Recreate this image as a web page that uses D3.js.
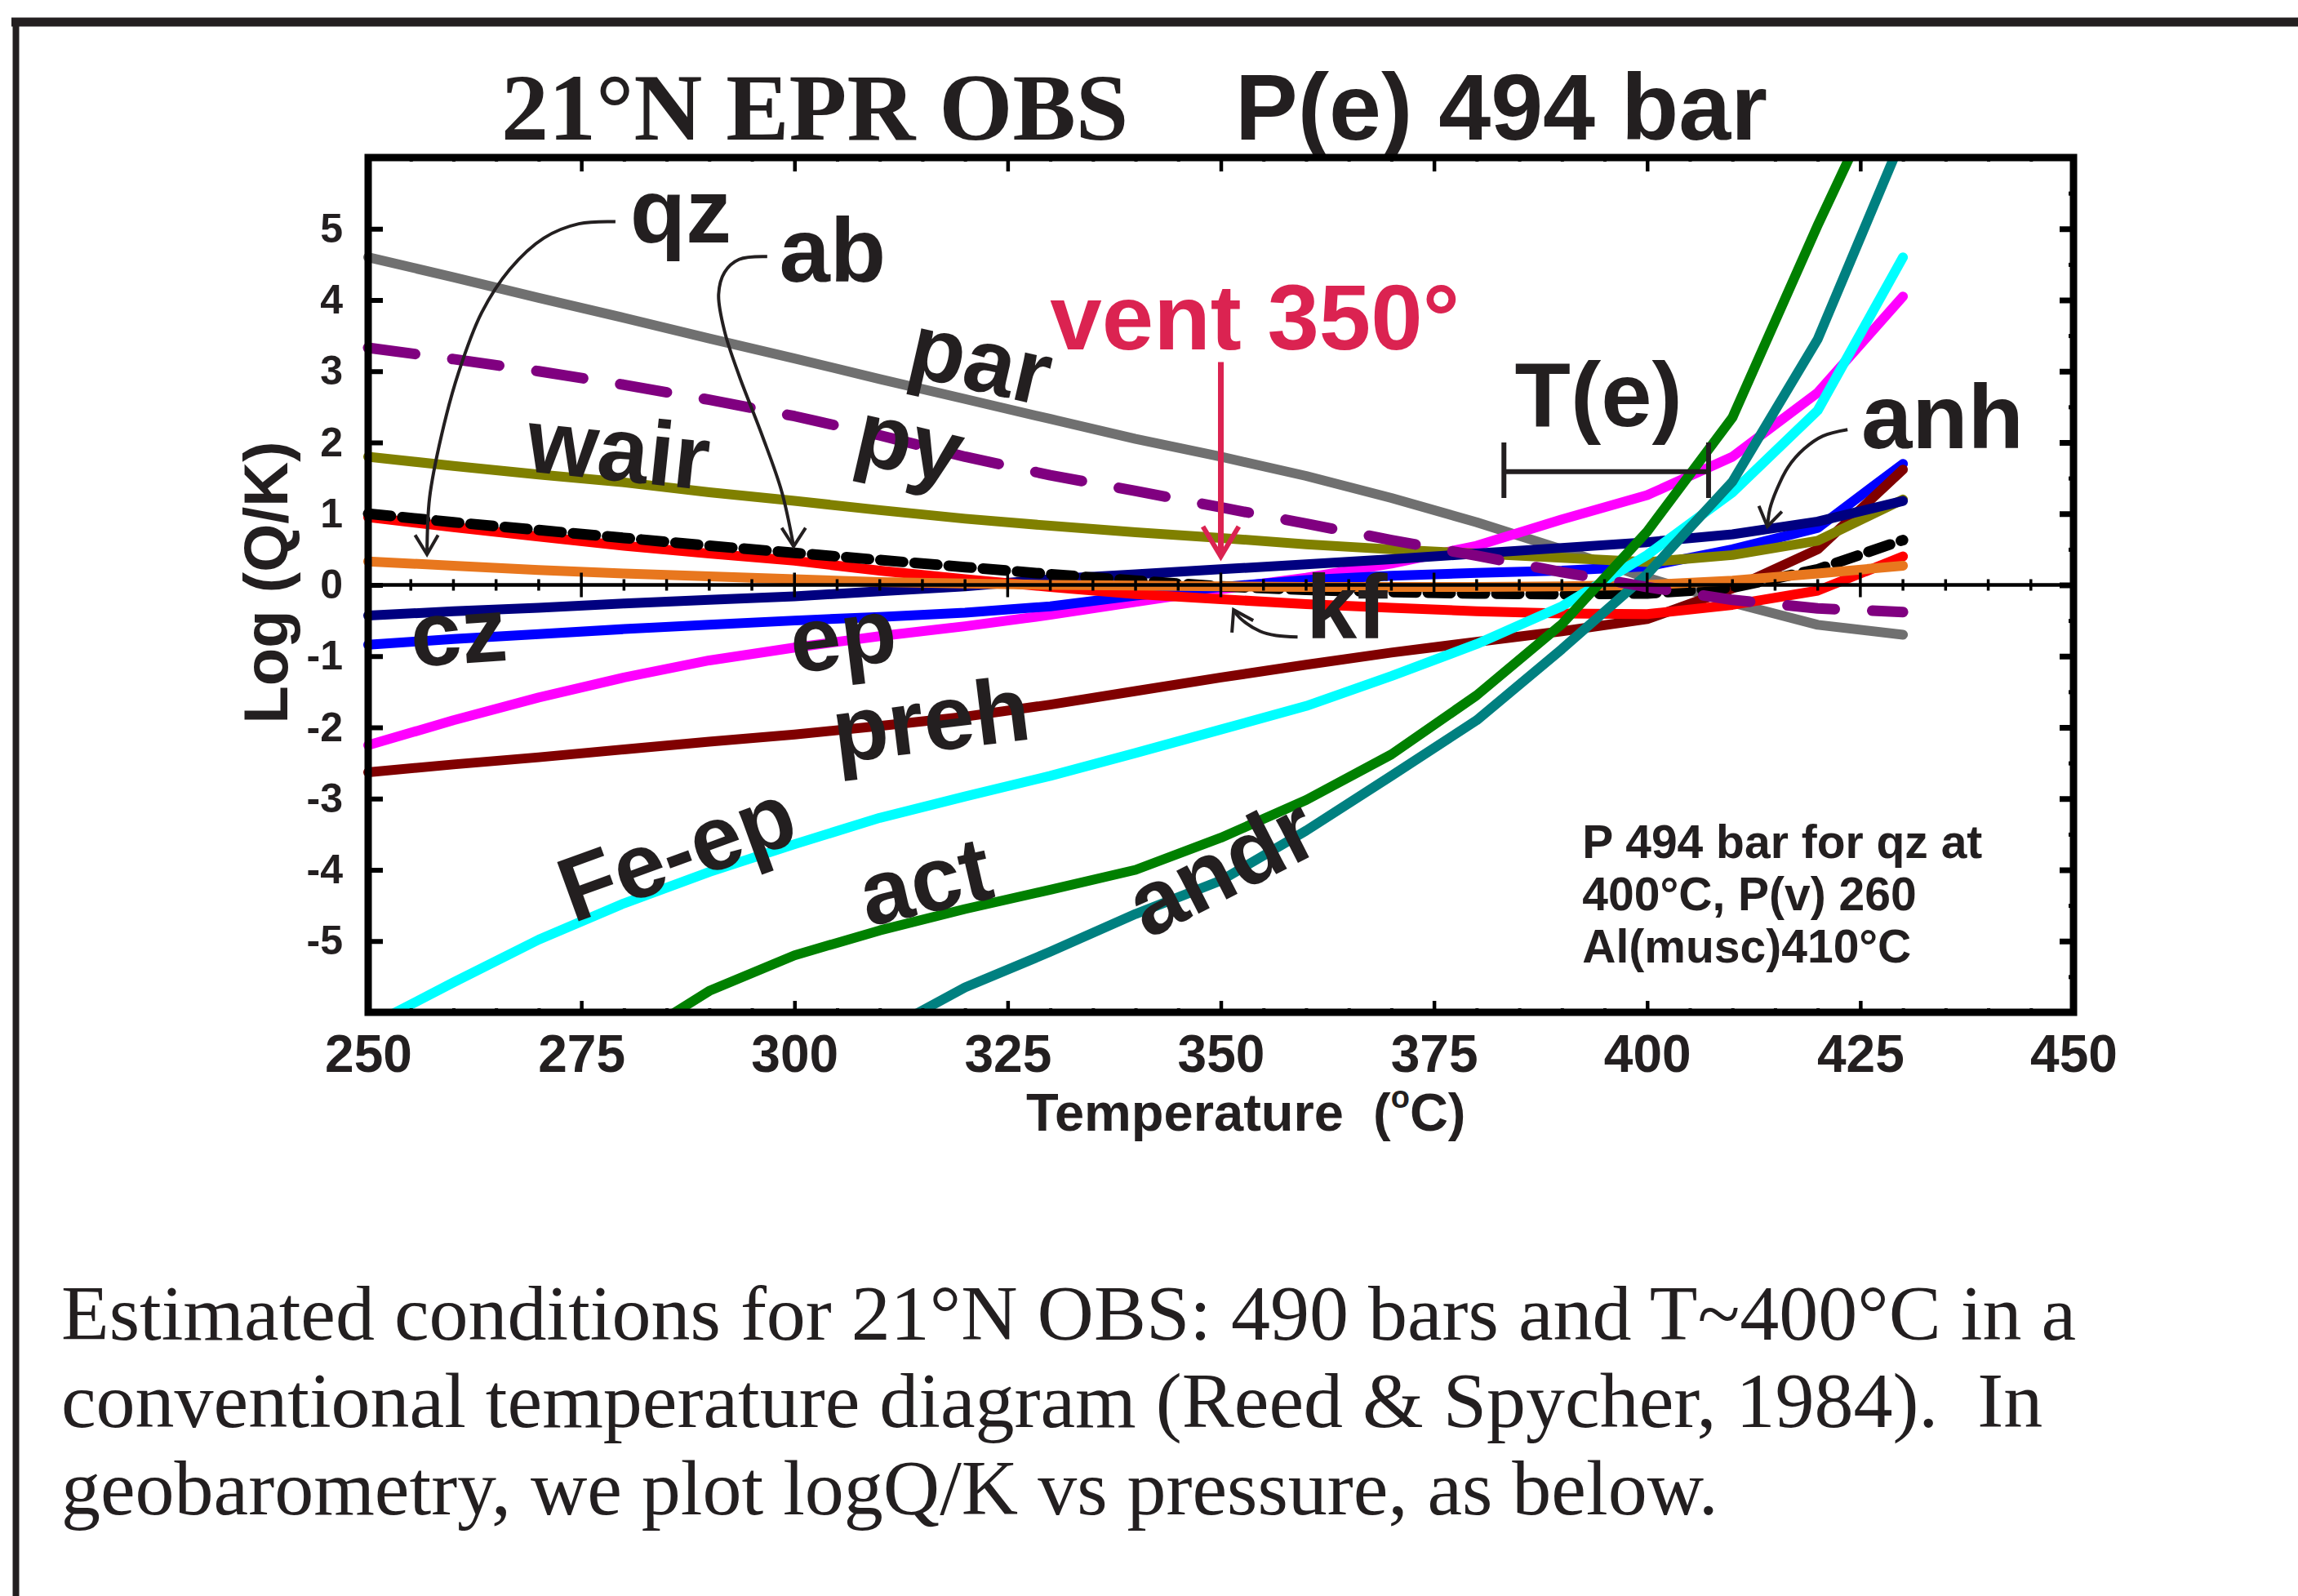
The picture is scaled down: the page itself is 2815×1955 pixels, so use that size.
<!DOCTYPE html>
<html>
<head>
<meta charset="utf-8">
<script src="https://cdn.jsdelivr.net/npm/d3@7"></script>
<style>
  body { margin: 0; background: #fff; }
  svg { display: block; }
  text { font-family: "Liberation Sans", Arial, sans-serif; font-weight: bold; fill: #231f20; white-space: pre; }
  .serif { font-family: "Liberation Serif", "Times New Roman", serif; }
</style>
</head>
<body>
<svg id="chart" width="2815" height="1955"></svg>
<script>
// temperatures (°C) at which log(Q/K) was evaluated
const temps = [250, 260, 270, 280, 290, 300, 310, 320, 330, 340, 350, 360, 370, 380, 390, 400, 410, 420, 430];

// log(Q/K) per mineral (null = off the chart)
const par  = [4.6, 4.32, 4.03, 3.75, 3.46, 3.18, 2.89, 2.61, 2.33, 2.05, 1.8, 1.53, 1.22, 0.88, 0.5, 0.1, -0.25, -0.56, -0.7];
const ep   = [-2.25, -1.9, -1.58, -1.3, -1.06, -0.88, -0.72, -0.58, -0.42, -0.24, -0.06, 0.1, 0.3, 0.55, 0.92, 1.26, 1.8, 2.7, 4.05];
const cz   = [-0.84, -0.76, -0.69, -0.62, -0.56, -0.5, -0.45, -0.39, -0.3, -0.15, -0.03, 0.07, 0.13, 0.17, 0.2, 0.26, 0.5, 0.8, 1.7];
const preh = [-2.63, -2.52, -2.42, -2.31, -2.2, -2.1, -1.98, -1.85, -1.68, -1.49, -1.3, -1.12, -0.95, -0.8, -0.65, -0.48, -0.05, 0.5, 1.62];
const wair = [1.8, 1.67, 1.55, 1.44, 1.3, 1.18, 1.05, 0.93, 0.83, 0.74, 0.66, 0.57, 0.5, 0.44, 0.38, 0.32, 0.42, 0.62, 1.2];
const anh  = [-0.43, -0.37, -0.32, -0.26, -0.21, -0.16, -0.09, -0.02, 0.08, 0.15, 0.22, 0.29, 0.36, 0.44, 0.52, 0.6, 0.71, 0.89, 1.18];
const kf   = [0.95, 0.81, 0.68, 0.55, 0.44, 0.34, 0.2, 0.08, -0.03, -0.13, -0.2, -0.27, -0.32, -0.37, -0.4, -0.41, -0.28, -0.08, 0.4];
const ab   = [1.0, 0.88, 0.77, 0.66, 0.55, 0.45, 0.35, 0.25, 0.15, 0.06, -0.02, -0.07, -0.1, -0.12, -0.13, -0.12, -0.04, 0.22, 0.63];
const qz   = [0.33, 0.27, 0.21, 0.16, 0.12, 0.08, 0.04, 0.02, 0.0, -0.01, -0.02, -0.03, -0.03, -0.03, -0.02, 0.0, 0.06, 0.16, 0.27];
const feep = [-6.2, -5.58, -4.98, -4.47, -4.03, -3.64, -3.27, -2.97, -2.68, -2.36, -2.03, -1.7, -1.28, -0.83, -0.3, 0.42, 1.3, 2.45, 4.6];
const act  = [null, null, null, -6.45, -5.7, -5.2, -4.85, -4.55, -4.28, -4.0, -3.55, -3.02, -2.38, -1.55, -0.55, 0.75, 2.35, 5.05, 7.6];
const andr = [null, null, null, null, null, null, -6.3, -5.65, -5.15, -4.62, -4.15, -3.45, -2.68, -1.9, -0.9, 0.15, 1.45, 3.45, 6.3];
const py   = [3.33, 3.17, 3.0, 2.81, 2.6, 2.37, 2.1, 1.8, 1.54, 1.32, 1.09, 0.86, 0.63, 0.41, 0.18, -0.03, -0.21, -0.33, -0.38];

// axis ticks
const xTicks = [250, 275, 300, 325, 350, 375, 400, 425, 450];
const yTicks = [-5, -4, -3, -2, -1, 0, 1, 2, 3, 4, 5];

const captionLines = [
  'Estimated conditions for 21°N OBS: 490 bars and T~400°C in a',
  'conventional temperature diagram (Reed & Spycher, 1984).  In',
  'geobarometry, we plot logQ/K vs pressure, as below.'
];
const noteLines = ['P 494 bar for qz at', '400°C, P(v) 260', 'Al(musc)410°C'];

// drawing order = stacking order
let series = [
  { key: 'par',  values: par,  color: '#707070' },
  { key: 'ep',   values: ep,   color: '#ff00ff' },
  { key: 'cz',   values: cz,   color: '#0000ff' },
  { key: 'preh', values: preh, color: '#800000' },
  { key: 'wair', values: wair, color: '#808000' },
  { key: 'anh',  values: anh,  color: '#000080' },
  { key: 'kf',   values: kf,   color: '#ff0000' },
  { key: 'ab',   values: ab,   color: '#000000', dash: '28,14' },
  { key: 'qz',   values: qz,   color: '#e8771e' },
  { key: 'feep', values: feep, color: '#00ffff' },
  { key: 'act',  values: act,  color: '#008000' },
  { key: 'andr', values: andr, color: '#008080' },
  { key: 'py',   values: py,   color: '#800080', dash: '58,46' }
];

let svg = d3.select('#chart');
svg.append('rect').attr('width', 2815).attr('height', 1955).attr('fill', '#fff');

let x = d3.scaleLinear().domain([250, 450]).range([451, 2540]);
let y = d3.scaleLinear().domain([-6, 6]).range([1240, 193]);

// page frame
svg.append('line').attr('x1', 14).attr('x2', 2815).attr('y1', 27).attr('y2', 27)
  .attr('stroke', '#231f20').attr('stroke-width', 11);
svg.append('line').attr('x1', 19.5).attr('x2', 19.5).attr('y1', 22).attr('y2', 1955)
  .attr('stroke', '#231f20').attr('stroke-width', 8);

// title
svg.append('text').attr('class', 'serif').attr('x', 614).attr('y', 171)
  .attr('font-size', 116).text('21°N EPR OBS');
svg.append('text').attr('x', 1513).attr('y', 171)
  .attr('font-size', 115).text('P(e) 494 bar');

svg.append('clipPath').attr('id', 'plotclip')
  .append('rect').attr('x', 430).attr('y', 193).attr('width', 2130).attr('height', 1047);

let line = d3.line()
  .defined(d => d[1] != null)
  .x(d => x(d[0]))
  .y(d => y(d[1]));

let curves = svg.append('g').attr('clip-path', 'url(#plotclip)');
curves.selectAll('path')
  .data(series)
  .join('path')
  .attr('d', s => line(temps.map((t, i) => [t, s.values[i]])))
  .attr('fill', 'none')
  .attr('stroke', s => s.color)
  .attr('stroke-width', s => s.dash ? 13 : 12)
  .attr('stroke-linecap', 'round')
  .attr('stroke-linejoin', 'round')
  .attr('stroke-dasharray', s => s.dash || null);

// zero line with ticks every 5 degrees
let minorX = d3.range(250, 451, 5);
svg.append('line').attr('x1', x(250)).attr('x2', x(450)).attr('y1', y(0)).attr('y2', y(0))
  .attr('stroke', '#000').attr('stroke-width', 4.5);
svg.append('g').selectAll('line')
  .data(minorX)
  .join('line')
  .attr('x1', d => x(d)).attr('x2', d => x(d))
  .attr('y1', d => y(0) - (d % 25 === 0 ? 15 : 7))
  .attr('y2', d => y(0) + (d % 25 === 0 ? 15 : 7))
  .attr('stroke', '#000').attr('stroke-width', 3.5);

// axes, ticks pointing inward
function styleAxis(g, w) {
  g.select('.domain').remove();
  g.selectAll('.tick line').attr('stroke', '#000').attr('stroke-width', w);
}

svg.append('g').attr('transform', `translate(0,${y(-6)})`)
  .call(d3.axisBottom(x).tickValues(xTicks).tickSize(-14).tickPadding(28).tickFormat(d3.format('d')))
  .call(g => styleAxis(g, 4.5))
  .call(g => g.selectAll('text').attr('font-size', 64).attr('font-family', '"Liberation Sans", Arial, sans-serif').attr('fill', '#000'));
svg.append('g').attr('transform', `translate(0,${y(-6)})`)
  .call(d3.axisBottom(x).tickValues(minorX).tickSize(-5).tickFormat(''))
  .call(g => styleAxis(g, 4));

svg.append('g').attr('transform', `translate(0,${y(6)})`)
  .call(d3.axisTop(x).tickValues(xTicks).tickSize(-17).tickFormat(''))
  .call(g => styleAxis(g, 4.5));
svg.append('g').attr('transform', `translate(0,${y(6)})`)
  .call(d3.axisTop(x).tickValues(minorX).tickSize(-5).tickFormat(''))
  .call(g => styleAxis(g, 4));

svg.append('g').attr('transform', `translate(${x(250)},0)`)
  .call(d3.axisLeft(y).tickValues(yTicks).tickSize(-18).tickPadding(31).tickFormat(d3.format('d')))
  .call(g => styleAxis(g, 6))
  .call(g => g.selectAll('text').attr('font-size', 50).attr('font-family', '"Liberation Sans", Arial, sans-serif').attr('fill', '#000')
    .text(d => d < 0 ? '-' + Math.abs(d) : d));

svg.append('g').attr('transform', `translate(${x(450)},0)`)
  .call(d3.axisRight(y).tickValues(yTicks).tickSize(-17).tickFormat(''))
  .call(g => styleAxis(g, 7));
svg.append('g').attr('transform', `translate(${x(450)},0)`)
  .call(d3.axisRight(y).tickValues(d3.range(-5.5, 6, 1)).tickSize(-6).tickFormat(''))
  .call(g => styleAxis(g, 5));

// plot frame
svg.append('rect')
  .attr('x', x(250)).attr('y', y(6))
  .attr('width', x(450) - x(250)).attr('height', y(-6) - y(6))
  .attr('fill', 'none').attr('stroke', '#000').attr('stroke-width', 9);

// axis titles
svg.append('text')
  .attr('transform', `translate(352,${y(0) - 3}) rotate(-90)`)
  .attr('text-anchor', 'middle').attr('font-size', 76).attr('fill', '#000')
  .text('Log (Q/K)');
let xt = svg.append('text').attr('x', 1257).attr('y', 1385).attr('font-size', 65).attr('fill', '#000');
xt.append('tspan').text('Temperature  (');
xt.append('tspan').attr('font-size', 38).attr('dy', -28).text('o');
xt.append('tspan').attr('dy', 28).text('C)');

// mineral labels: [T, logQ/K] of baseline start, rotation
let labels = [
  { text: 'qz',    at: [280.7, 4.81],  rot: 0 },
  { text: 'ab',    at: [298.2, 4.26],  rot: 0 },
  { text: 'par',   at: [312.9, 2.96],  rot: 13 },
  { text: 'py',    at: [306.6, 1.74],  rot: 13 },
  { text: 'wair',  at: [268.3, 1.6],   rot: 6 },
  { text: 'T(e)',  at: [394.3, 2.23],  rot: 0, anchor: 'middle' },
  { text: 'anh',   at: [425.1, 1.92],  rot: 0 },
  { text: 'kf',    at: [360.0, -0.75], rot: 0 },
  { text: 'cz',    at: [255.2, -1.15], rot: -4 },
  { text: 'ep',    at: [299.9, -1.24], rot: -7 },
  { text: 'preh',  at: [304.9, -2.5],  rot: -7 },
  { text: 'Fe-ep', at: [274.0, -4.75], rot: -20 },
  { text: 'act',   at: [308.6, -4.8],  rot: -13 },
  { text: 'andr',  at: [341.4, -4.98], rot: -27 }
];
svg.append('g').selectAll('text')
  .data(labels)
  .join('text')
  .attr('transform', d => `translate(${x(d.at[0])},${y(d.at[1])}) rotate(${d.rot})`)
  .attr('text-anchor', d => d.anchor || 'start')
  .attr('font-size', 112)
  .text(d => d.text);

// vent marker
svg.append('text')
  .attr('x', x(354)).attr('y', y(3.31))
  .attr('text-anchor', 'middle').attr('font-size', 114)
  .style('fill', '#db2351')
  .text('vent 350°');
svg.append('line')
  .attr('x1', x(350)).attr('x2', x(350)).attr('y1', y(3.13)).attr('y2', y(0.42))
  .attr('stroke', '#db2351').attr('stroke-width', 7);
svg.append('path')
  .attr('d', d3.line()([[x(347.9), y(0.82)], [x(350), y(0.4)], [x(352.1), y(0.82)]]))
  .attr('fill', 'none').attr('stroke', '#db2351').attr('stroke-width', 6);

// T(e) bracket
let te = [383.2, 407.2];
svg.append('path')
  .attr('d', `M${x(te[0])},${y(2.0)}V${y(1.22)}M${x(te[0])},${y(1.59)}H${x(te[1])}M${x(te[1])},${y(2.0)}V${y(1.22)}`)
  .attr('fill', 'none').attr('stroke', '#231f20').attr('stroke-width', 6);

// curved pointer arrows, in data coordinates
let arrows = [
  { pts: [[279.0, 5.10], [274.7, 5.07], [270.6, 4.87], [266.6, 4.43], [263.3, 3.82], [260.6, 2.98], [258.6, 2.10], [257.2, 1.22], [256.9, 0.43]],
    head: [[255.5, 0.70], [256.9, 0.43], [258.2, 0.70]] },
  { pts: [[296.8, 4.61], [293.5, 4.57], [291.8, 4.39], [291.1, 4.08], [291.8, 3.56], [293.5, 2.94], [296.2, 2.10], [298.5, 1.31], [299.9, 0.54]],
    head: [[298.5, 0.80], [299.9, 0.54], [301.3, 0.80]] },
  { pts: [[423.5, 2.18], [420.6, 2.09], [418.4, 1.91], [416.5, 1.65], [415.2, 1.34], [414.4, 1.07], [414.1, 0.82]],
    head: [[413.1, 1.11], [414.1, 0.82], [415.8, 1.03]] },
  { pts: [[359.0, -0.73], [356.5, -0.71], [354.6, -0.65], [352.2, -0.46], [351.5, -0.35]],
    head: [[351.3, -0.67], [351.5, -0.35], [353.8, -0.50]] }
];
let arrowLine = d3.line().x(d => x(d[0])).y(d => y(d[1]));
let ag = svg.append('g').attr('fill', 'none').attr('stroke', '#231f20').attr('stroke-width', 4);
ag.selectAll('path.shaft')
  .data(arrows)
  .join('path').attr('class', 'shaft')
  .attr('d', a => arrowLine.curve(d3.curveCatmullRom)(a.pts));
ag.selectAll('path.head')
  .data(arrows)
  .join('path').attr('class', 'head')
  .attr('d', a => arrowLine.curve(d3.curveLinear)(a.head));

// note inside the plot
svg.append('g').selectAll('text')
  .data(noteLines)
  .join('text')
  .attr('x', x(392.4))
  .attr('y', (d, i) => y(-3.83) + i * 64)
  .attr('font-size', 57)
  .text(d => d);

// caption below
svg.append('g').selectAll('text')
  .data(captionLines)
  .join('text')
  .attr('class', 'serif')
  .attr('x', 75)
  .attr('y', (d, i) => 1641 + i * 107)
  .attr('font-size', 96)
  .style('font-weight', 'normal')
  .text(d => d);
</script>
</body>
</html>
